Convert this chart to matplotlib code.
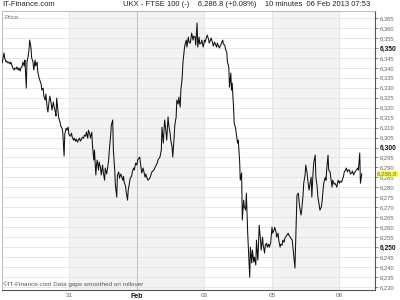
import matplotlib
matplotlib.use("Agg")
import matplotlib.pyplot as plt
import matplotlib.transforms as mtransforms

FONT = ['Liberation Sans Narrow', 'Liberation Sans', 'DejaVu Sans']
plt.rcParams['font.family'] = FONT

# --- data: intraday fraction (0..1) and price, one pair of lists per session ---
f_jan30 = [0.00, .01, .03, .04, .06, .07, .09, .10, .12, .13, .15, .16, .18, .19, .21, .22, .24, .25,
           .27, .28, .30, .31, .33, .34, .36, .37, .39, .40, .41, .43, .44, .46, .47, .49, .50, .52,
           .53, .55, .56, .58, .59, .61, .62, .64, .65, .67, .68, .70, .71, .73, .74, .76, .77, .79,
           .80, .81, .83, .84, .86, .87, .89, .90, .92, .93, .95, .96, .98, .99]
p_jan30 = [6342.4, 6343.9, 6347.4, 6344.9, 6342.9, 6343.4, 6342.4, 6342.9, 6341.9, 6342.9, 6340.9,
           6339.9, 6338.9, 6339.9, 6339.4, 6340.4, 6338.9, 6339.9, 6338.4, 6339.9, 6340.9, 6342.9,
           6340.9, 6343.9, 6329.8, 6342.9, 6346.4, 6348.9, 6353.9, 6349.9, 6344.9, 6342.9, 6338.9,
           6343.9, 6340.9, 6342.9, 6337.9, 6334.8, 6333.8, 6331.8, 6328.8, 6329.8, 6325.8, 6323.8,
           6326.8, 6319.8, 6317.8, 6323.8, 6325.8, 6321.8, 6318.8, 6322.8, 6320.8, 6317.8, 6315.8,
           6324.8, 6317.8, 6314.8, 6312.8, 6310.7, 6309.7, 6307.7, 6295.7, 6306.7, 6309.7, 6308.7,
           6310.2, 6306.7]

f_jan31 = [.01, .03, .04, .06, .07, .09, .10, .12, .13, .15, .16, .18, .19, .21, .22, .24, .25, .27,
           .28, .30, .31, .33, .34, .36, .37, .39, .40, .41, .43, .44, .46, .47, .49, .50, .52, .53,
           .55, .56, .58, .59, .61, .62, .64, .65, .67, .68, .70, .71, .73, .74, .76, .77, .79, .80,
           .81, .83, .84, .86, .87, .89, .90, .92, .93, .95, .96, .98]
p_jan31 = [6305.7, 6307.2, 6305.2, 6303.7, 6304.7, 6303.2, 6304.2, 6302.7, 6303.7, 6304.7, 6303.2,
           6304.2, 6305.2, 6304.7, 6306.2, 6305.7, 6307.7, 6304.7, 6308.7, 6306.7, 6304.7, 6307.7,
           6301.2, 6293.7, 6298.7, 6286.2, 6291.2, 6293.7, 6288.7, 6292.7, 6289.7, 6286.2, 6291.2,
           6287.7, 6283.6, 6289.7, 6286.7, 6288.7, 6293.7, 6298.7, 6306.2, 6311.3, 6313.8, 6298.7,
           6288.7, 6281.1, 6275.1, 6286.2, 6287.7, 6284.6, 6286.7, 6285.6, 6283.6, 6285.6, 6282.6,
           6280.6, 6277.6, 6273.6, 6278.6, 6282.6, 6284.6, 6285.6, 6287.7, 6289.7, 6288.7, 6292.2]

f_feb01 = [.00, .01, .04, .07, .09, .12, .13, .16, .19, .22, .25, .27, .30, .31, .34, .36, .37, .39,
           .40, .41, .43, .44, .46, .47, .49, .50, .52, .53, .55, .56, .58, .59, .61, .62, .64, .65,
           .67, .68, .70, .71, .73, .74, .76, .77, .79, .80, .81, .83, .84, .86, .87, .89, .90, .92,
           .93, .95, .96, .98]
p_feb01 = [6291.2, 6293.7, 6295.2, 6287.2, 6289.7, 6285.1, 6286.7, 6283.6, 6284.6, 6287.7, 6288.7,
           6290.2, 6292.2, 6293.7, 6295.2, 6298.7, 6310.2, 6302.2, 6308.7, 6313.8, 6307.7, 6303.7,
           6315.3, 6311.3, 6307.2, 6303.7, 6300.2, 6295.2, 6305.2, 6311.3, 6315.3, 6323.8, 6321.8,
           6325.3, 6320.3, 6328.8, 6335.3, 6342.4, 6348.9, 6351.4, 6353.9, 6350.4, 6355.4, 6352.9,
           6352.4, 6354.9, 6357.4, 6353.9, 6355.9, 6355.4, 6351.4, 6362.5, 6350.4, 6355.4, 6351.9,
           6352.4, 6353.9, 6350.4]

f_feb04 = [.00, .01, .03, .04, .06, .07, .10, .12, .13, .15, .16, .18, .19, .22, .24, .25, .27, .28,
           .30, .31, .33, .34, .36, .37, .39, .40, .41, .43, .44, .46, .47, .49, .50, .52, .53, .55,
           .56, .58, .59, .61, .62, .64, .65, .67, .68, .70, .71, .73, .74, .76, .77, .79, .80, .81,
           .83, .84, .86, .87, .89, .90, .92, .93, .95, .96, .98]
p_feb04 = [6353.9, 6352.9, 6355.4, 6356.4, 6354.4, 6352.4, 6354.9, 6352.4, 6350.9, 6352.9, 6351.9,
           6350.4, 6352.4, 6349.9, 6351.4, 6352.4, 6353.9, 6351.9, 6351.4, 6349.4, 6347.9, 6342.9,
           6340.4, 6330.3, 6337.4, 6328.8, 6332.3, 6320.3, 6312.3, 6309.7, 6307.2, 6302.2, 6303.7,
           6293.7, 6283.6, 6287.2, 6263.6, 6273.6, 6270.1, 6268.6, 6277.1, 6257.0, 6250.0, 6234.9,
           6250.0, 6242.0, 6248.5, 6242.5, 6245.0, 6241.0, 6253.5, 6243.5, 6251.0, 6261.0, 6253.5,
           6248.5, 6255.0, 6251.0, 6247.0, 6251.0, 6252.0, 6250.0, 6251.5, 6250.0, 6252.0]

f_feb05 = [.00, .01, .03, .04, .06, .07, .09, .10, .12, .13, .15, .16, .18, .19, .21, .22, .24, .25,
           .27, .28, .30, .31, .33, .34, .36, .37, .39, .40, .41, .43, .44, .46, .47, .49, .50, .52,
           .53, .55, .56, .58, .59, .61, .62, .64, .65, .67, .68, .70, .71, .73, .74, .76, .77, .79,
           .80, .81, .83, .84, .86, .87, .89, .90, .92, .93, .95, .96, .98]
p_feb05 = [6260.0, 6257.0, 6258.5, 6260.0, 6257.5, 6255.0, 6257.0, 6253.5, 6250.0, 6251.5, 6251.0,
           6253.5, 6252.5, 6254.5, 6255.5, 6256.0, 6257.0, 6256.0, 6255.0, 6254.5, 6253.5, 6250.0,
           6243.5, 6239.5, 6263.6, 6276.1, 6277.1, 6273.6, 6270.1, 6266.1, 6268.6, 6276.1, 6282.1,
           6286.2, 6291.2, 6287.2, 6283.6, 6278.6, 6281.1, 6285.1, 6275.1, 6288.7, 6292.7, 6296.2,
           6285.1, 6280.1, 6275.1, 6271.1, 6268.6, 6270.1, 6272.1, 6280.1, 6282.6, 6285.1, 6283.6,
           6288.7, 6296.2, 6288.7, 6287.7, 6285.1, 6280.1, 6283.6, 6281.6, 6282.1, 6281.1, 6280.1,
           6283.6]

f_feb06 = [.00, .01, .03, .04, .06, .07, .09, .10, .12, .13, .15, .16, .18, .19, .21, .22, .24, .25,
           .27, .28, .30, .31, .33]
p_feb06 = [6282.1, 6283.1, 6282.6, 6283.6, 6285.6, 6287.7, 6288.7, 6289.7, 6287.7, 6288.7, 6288.7,
           6286.7, 6287.2, 6288.2, 6286.2, 6287.2, 6288.2, 6288.7, 6289.7, 6288.7, 6297.2, 6282.1,
           6286.8]

sessions_f = [f_jan30, f_jan31, f_feb01, f_feb04, f_feb05, f_feb06]
sessions_p = [p_jan30, p_jan31, p_feb01, p_feb04, p_feb05, p_feb06]

tick_labels = ["31", "Feb", "03", "05", "06"]
tick_bold = [False, True, False, False, False]
shaded_sessions = [1, 2, 4]
last_price = 6286.8
y_ticks = list(range(6230, 6366, 5))

# --- assemble ---
xs, ys = [], []
for k, (fs, ps) in enumerate(zip(sessions_f, sessions_p)):
    xs += [k + f for f in fs]
    ys += ps

fig = plt.figure(figsize=(4, 3), dpi=100)
fig.patch.set_facecolor("white")
ax = fig.add_axes([0.005, 1 - 290 / 300, 373 / 400, 279 / 300])
ax.set_xlim(0, 5.526)
ax.set_ylim(6228.5, 6368.5)

for k in shaded_sessions:
    ax.axvspan(k, k + 1, color="#f2f2f2", zorder=0, lw=0)

for y in y_ticks:
    ax.axhline(y, color="#e3e3e3", lw=0.6, zorder=1)
for i in range(1, 6):
    ax.axvline(i, color="#c4c4c4" if tick_bold[i - 1] else "#e6e6e6", lw=0.8, zorder=1)

ax.plot(xs, ys, color="#111111", lw=0.75, zorder=3)

ax.yaxis.tick_right()
ax.set_yticks(y_ticks)
ax.set_yticklabels([f"{v:,}" for v in y_ticks])
for v, lab in zip(y_ticks, ax.get_yticklabels()):
    if v % 50 == 0:
        lab.set_fontweight("bold")
        lab.set_color("#111111")
        lab.set_fontsize(4.8)
    else:
        lab.set_color("#666666")
        lab.set_fontsize(4.2)
ax.tick_params(axis="y", length=2, width=0.5, color="#666666", pad=1.5)

ax.set_xticks(range(1, 6))
ax.set_xticklabels(tick_labels)
for b, lab in zip(tick_bold, ax.get_xticklabels()):
    lab.set_fontsize(5.0 if b else 4.6)
    lab.set_color("#111111" if b else "#666666")
    if b:
        lab.set_fontweight("bold")
ax.tick_params(axis="x", length=0, pad=2.5)

for s in ("left", "top"):
    ax.spines[s].set_color("#b0b0b0")
    ax.spines[s].set_linewidth(0.6)
for s in ("right", "bottom"):
    ax.spines[s].set_color("#555555")
    ax.spines[s].set_linewidth(0.8)

ax.text(0.006, 0.985, "Price", transform=ax.transAxes, fontsize=4.6, color="#777777",
        va="top", ha="left")
ax.text(0.003, 0.012, "\u00a9IT-Finance.com Data gaps smoothed on rollover",
        transform=ax.transAxes, fontsize=4.6, color="#555555", va="bottom", ha="left")

trans = mtransforms.blended_transform_factory(ax.transAxes, ax.transData)
ax.text(1.006, last_price, f"{last_price:,.1f}", transform=trans, fontsize=4.4,
        color="#666666", va="center", ha="left", zorder=10, clip_on=False,
        bbox=dict(boxstyle="square,pad=0.12", fc="#ffff33", ec="none"))

fig.text(2 / 400, 1 - 5 / 300, "IT-Finance.com", fontsize=5.5, color="#222222",
         va="center", ha="left")
fig.text(123 / 400, 1 - 5 / 300,
         "UKX - FTSE 100 (-)    6,286.8 (+0.08%)    10 minutes  06 Feb 2013 07:53",
         fontsize=5.5, color="#222222", va="center", ha="left")

fig.savefig("out.png", dpi=100, facecolor="white")
